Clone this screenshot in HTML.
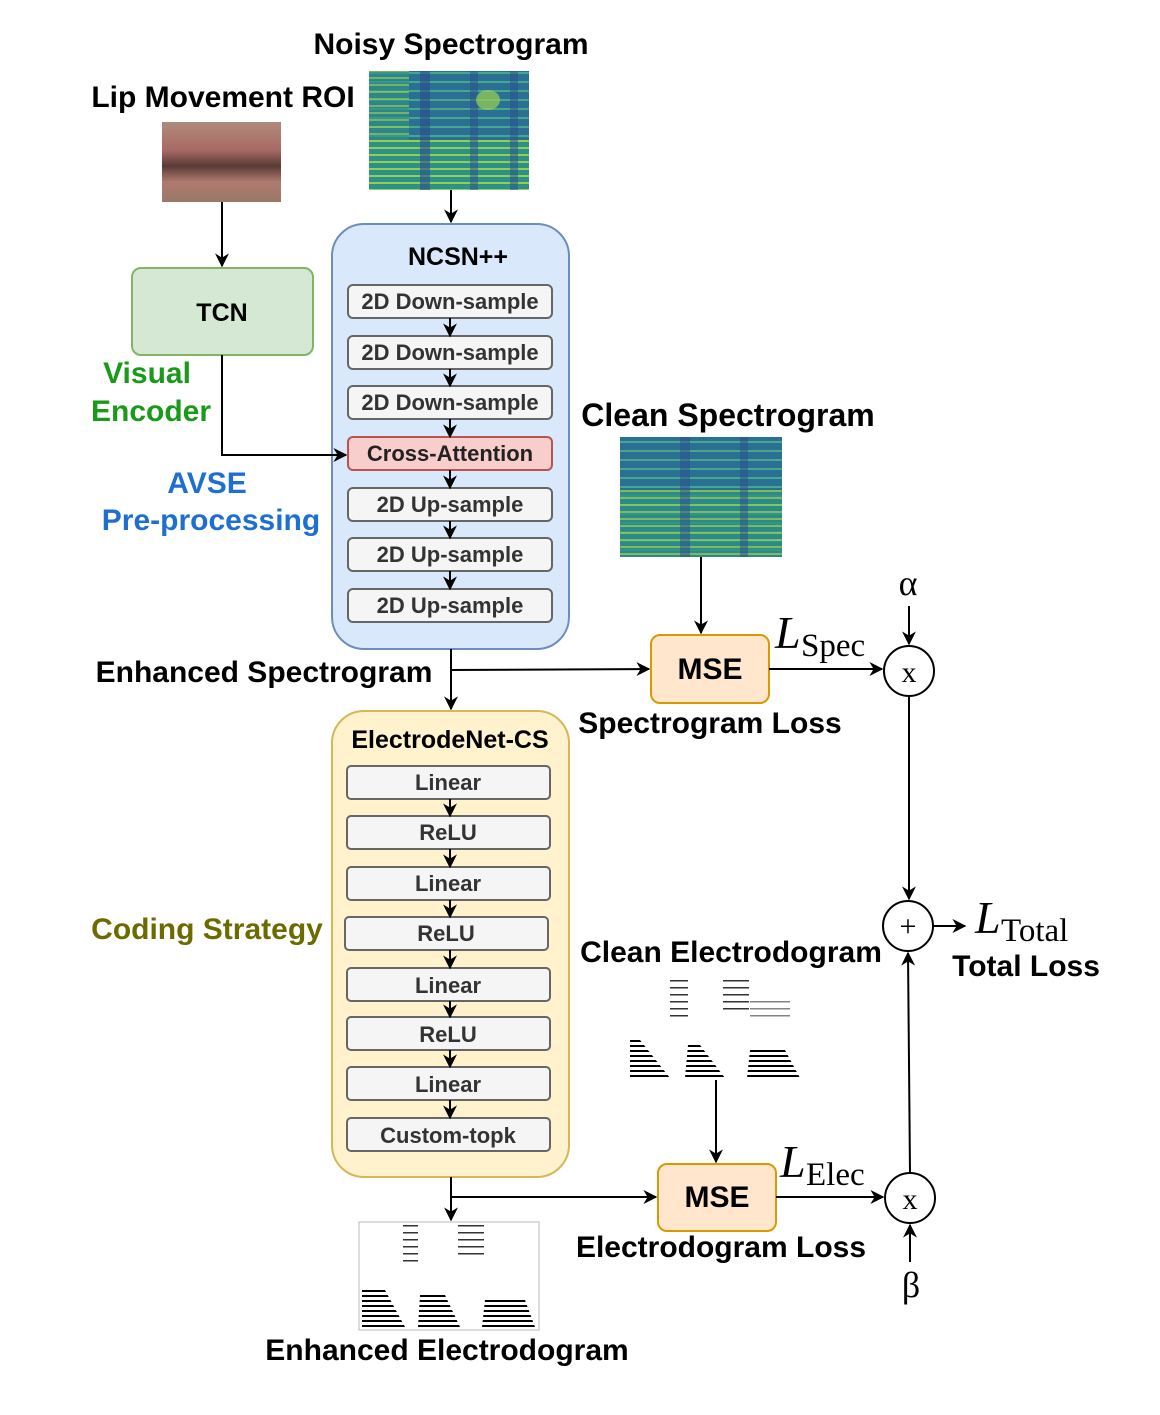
<!DOCTYPE html>
<html><head><meta charset="utf-8"><style>
html,body{margin:0;padding:0;background:#fff}
svg text{font-family:"Liberation Sans",Arial,sans-serif;font-weight:bold}
.s{font-family:"Liberation Serif",serif;font-weight:normal;font-style:italic}
.r{font-family:"Liberation Serif",serif;font-weight:normal}
</style></head><body>
<svg width="1160" height="1410" viewBox="0 0 1160 1410" xmlns="http://www.w3.org/2000/svg">
<defs>
<marker id="a" viewBox="0 0 10 10" refX="9" refY="5" markerWidth="14" markerHeight="14" orient="auto" markerUnits="userSpaceOnUse"><path d="M0,0 L10,5 L0,10 L3,5z" fill="#000"/></marker>
<pattern id="hs" width="6" height="7" patternUnits="userSpaceOnUse"><rect width="6" height="7" fill="#2f8f8a"/><rect y="0" width="6" height="2" fill="#8fd14a"/></pattern>
<pattern id="hs2" width="6" height="9" patternUnits="userSpaceOnUse"><rect width="6" height="9" fill="#2c6f95"/><rect y="0" width="6" height="2" fill="#45a88a"/></pattern>
<pattern id="el" width="10" height="5" patternUnits="userSpaceOnUse"><rect width="10" height="2" fill="#000"/></pattern>
<pattern id="el2" width="10" height="7" patternUnits="userSpaceOnUse"><rect width="10" height="1.5" fill="#333"/></pattern>
<linearGradient id="lip" x1="0" y1="0" x2="0" y2="1"><stop offset="0" stop-color="#b08a7a"/><stop offset="0.35" stop-color="#a86a64"/><stop offset="0.55" stop-color="#5a3a35"/><stop offset="0.75" stop-color="#b07a70"/><stop offset="1" stop-color="#9a7868"/></linearGradient>
</defs>

<text x="451" y="54" font-size="30" text-anchor="middle">Noisy Spectrogram</text>
<text x="223" y="107" font-size="30" text-anchor="middle">Lip Movement ROI</text>

<rect x="162" y="122" width="119" height="80" fill="url(#lip)"/>
<rect x="369" y="71" width="160" height="119" fill="url(#hs2)"/>
<rect x="369" y="140" width="160" height="50" fill="url(#hs)"/>
<rect x="369" y="71" width="40" height="70" fill="url(#hs)" opacity="0.7"/>
<rect x="420" y="71" width="10" height="119" fill="#2a4f8a" opacity="0.6"/>
<rect x="470" y="71" width="8" height="119" fill="#2a4f8a" opacity="0.5"/>
<rect x="510" y="71" width="8" height="119" fill="#2a4f8a" opacity="0.5"/>
<ellipse cx="488" cy="100" rx="12" ry="10" fill="#9ad050" opacity="0.7"/>

<line x1="451" y1="190" x2="451" y2="222" stroke="#000" stroke-width="2" marker-end="url(#a)"/>

<rect x="132" y="268" width="181" height="87" rx="9" fill="#d5e8d4" stroke="#82b366" stroke-width="2"/>
<text x="222" y="321" font-size="25" text-anchor="middle">TCN</text>
<line x1="222" y1="202" x2="222" y2="266" stroke="#000" stroke-width="2" marker-end="url(#a)"/>
<text x="147" y="383" font-size="30" fill="#1a9a1a" text-anchor="middle">Visual</text>
<text x="151" y="421" font-size="30" fill="#1a9a1a" text-anchor="middle">Encoder</text>
<text x="207" y="493" font-size="30" fill="#1f6fd0" text-anchor="middle">AVSE</text>
<text x="211" y="530" font-size="30" fill="#1f6fd0" text-anchor="middle">Pre-processing</text>

<rect x="332" y="224" width="237" height="425" rx="32" fill="#dae8fc" stroke="#6c8ebf" stroke-width="2"/>
<polyline points="222,355 222,455 346,455" fill="none" stroke="#000" stroke-width="2" marker-end="url(#a)"/>
<text x="458" y="265" font-size="25" text-anchor="middle">NCSN++</text>
<g font-size="22" text-anchor="middle">
<rect x="348" y="285" width="204" height="33" rx="5" fill="#f5f5f5" stroke="#666" stroke-width="2"/><text x="450" y="309" fill="#333">2D Down-sample</text>
<rect x="348" y="336" width="204" height="33" rx="5" fill="#f5f5f5" stroke="#666" stroke-width="2"/><text x="450" y="360" fill="#333">2D Down-sample</text>
<rect x="348" y="386" width="204" height="33" rx="5" fill="#f5f5f5" stroke="#666" stroke-width="2"/><text x="450" y="410" fill="#333">2D Down-sample</text>
<rect x="348" y="437" width="204" height="33" rx="5" fill="#f8cecc" stroke="#b85450" stroke-width="2"/><text x="450" y="461" fill="#222">Cross-Attention</text>
<rect x="348" y="488" width="204" height="33" rx="5" fill="#f5f5f5" stroke="#666" stroke-width="2"/><text x="450" y="512" fill="#333">2D Up-sample</text>
<rect x="348" y="538" width="204" height="33" rx="5" fill="#f5f5f5" stroke="#666" stroke-width="2"/><text x="450" y="562" fill="#333">2D Up-sample</text>
<rect x="348" y="589" width="204" height="33" rx="5" fill="#f5f5f5" stroke="#666" stroke-width="2"/><text x="450" y="613" fill="#333">2D Up-sample</text>
</g>
<g stroke="#000" stroke-width="2" marker-end="url(#a)">
<line x1="450" y1="318" x2="450" y2="336"/><line x1="450" y1="369" x2="450" y2="386"/><line x1="450" y1="419" x2="450" y2="437"/>
<line x1="450" y1="470" x2="450" y2="488"/><line x1="450" y1="521" x2="450" y2="538"/><line x1="450" y1="571" x2="450" y2="589"/>
</g>

<text x="728" y="426" font-size="32" text-anchor="middle">Clean Spectrogram</text>
<rect x="620" y="437" width="162" height="120" fill="url(#hs2)"/>
<rect x="620" y="490" width="162" height="67" fill="url(#hs)" opacity="0.8"/>
<rect x="680" y="437" width="10" height="120" fill="#2a4f8a" opacity="0.5"/>
<rect x="740" y="437" width="8" height="120" fill="#2a4f8a" opacity="0.5"/>
<line x1="701" y1="557" x2="701" y2="633" stroke="#000" stroke-width="2" marker-end="url(#a)"/>

<text x="264" y="682" font-size="30" text-anchor="middle">Enhanced Spectrogram</text>
<line x1="451" y1="649" x2="451" y2="709" stroke="#000" stroke-width="2" marker-end="url(#a)"/>
<polyline points="451,670 649,669" fill="none" stroke="#000" stroke-width="2" marker-end="url(#a)"/>

<rect x="651" y="635" width="118" height="68" rx="9" fill="#ffe6cc" stroke="#d79b00" stroke-width="2"/>
<text x="710" y="679" font-size="30" text-anchor="middle">MSE</text>
<text x="710" y="733" font-size="30" text-anchor="middle">Spectrogram Loss</text>
<line x1="769" y1="669" x2="882" y2="669" stroke="#000" stroke-width="2" marker-end="url(#a)"/>
<text x="775" y="648" font-size="46" class="s">L</text><text x="801" y="656" font-size="33" class="r">Spec</text>

<circle cx="909" cy="671" r="25" fill="#fff" stroke="#000" stroke-width="2"/>
<text x="909" y="682" font-size="30" class="r" text-anchor="middle">x</text>
<text x="908" y="595" font-size="36" class="r" text-anchor="middle">α</text>
<line x1="909" y1="606" x2="909" y2="644" stroke="#000" stroke-width="2" marker-end="url(#a)"/>
<line x1="909" y1="696" x2="909" y2="899" stroke="#000" stroke-width="2" marker-end="url(#a)"/>

<circle cx="908" cy="926" r="25" fill="#fff" stroke="#000" stroke-width="2"/>
<text x="908" y="936" font-size="30" class="r" text-anchor="middle">+</text>
<line x1="933" y1="926" x2="965" y2="926" stroke="#000" stroke-width="2" marker-end="url(#a)"/>
<text x="975" y="933" font-size="46" class="s">L</text><text x="1001" y="941" font-size="33" class="r">Total</text>
<text x="1026" y="976" font-size="30" text-anchor="middle">Total Loss</text>

<text x="207" y="939" font-size="30" fill="#6b6b00" text-anchor="middle">Coding Strategy</text>
<rect x="332" y="711" width="237" height="466" rx="32" fill="#fff2cc" stroke="#d6b656" stroke-width="2"/>
<text x="450" y="748" font-size="25" text-anchor="middle">ElectrodeNet-CS</text>
<g font-size="22" text-anchor="middle" fill="#333">
<rect x="347" y="766" width="203" height="33" rx="4" fill="#f5f5f5" stroke="#666" stroke-width="2"/><text x="448" y="790">Linear</text>
<rect x="347" y="816" width="203" height="33" rx="4" fill="#f5f5f5" stroke="#666" stroke-width="2"/><text x="448" y="840">ReLU</text>
<rect x="347" y="867" width="203" height="33" rx="4" fill="#f5f5f5" stroke="#666" stroke-width="2"/><text x="448" y="891">Linear</text>
<rect x="345" y="917" width="203" height="33" rx="4" fill="#f5f5f5" stroke="#666" stroke-width="2"/><text x="446" y="941">ReLU</text>
<rect x="347" y="968" width="203" height="33" rx="4" fill="#f5f5f5" stroke="#666" stroke-width="2"/><text x="448" y="993">Linear</text>
<rect x="347" y="1017" width="203" height="33" rx="4" fill="#f5f5f5" stroke="#666" stroke-width="2"/><text x="448" y="1042">ReLU</text>
<rect x="347" y="1067" width="203" height="33" rx="4" fill="#f5f5f5" stroke="#666" stroke-width="2"/><text x="448" y="1092">Linear</text>
<rect x="347" y="1118" width="203" height="33" rx="4" fill="#f5f5f5" stroke="#666" stroke-width="2"/><text x="448" y="1143">Custom-topk</text>
</g>
<g stroke="#000" stroke-width="2" marker-end="url(#a)">
<line x1="450" y1="799" x2="450" y2="816"/><line x1="450" y1="849" x2="450" y2="867"/><line x1="450" y1="900" x2="450" y2="917"/>
<line x1="450" y1="950" x2="450" y2="968"/><line x1="450" y1="1001" x2="450" y2="1017"/><line x1="450" y1="1050" x2="450" y2="1067"/>
<line x1="450" y1="1100" x2="450" y2="1118"/>
</g>

<text x="731" y="962" font-size="30" text-anchor="middle">Clean Electrodogram</text>
<rect x="670" y="980" width="18" height="40" fill="url(#el2)"/>
<rect x="723" y="980" width="26" height="30" fill="url(#el2)"/>
<rect x="750" y="1000" width="40" height="20" fill="url(#el2)" opacity="0.6"/>
<path d="M630,1078 L670,1078 L640,1040 L630,1040z" fill="url(#el)"/>
<path d="M685,1078 L725,1078 L700,1045 L688,1045z" fill="url(#el)"/>
<path d="M747,1078 L800,1078 L785,1050 L750,1050z" fill="url(#el)"/>
<line x1="716" y1="1080" x2="716" y2="1162" stroke="#000" stroke-width="2" marker-end="url(#a)"/>

<line x1="451" y1="1177" x2="451" y2="1220" stroke="#000" stroke-width="2" marker-end="url(#a)"/>
<polyline points="451,1197 656,1197" fill="none" stroke="#000" stroke-width="2" marker-end="url(#a)"/>
<rect x="658" y="1164" width="118" height="67" rx="9" fill="#ffe6cc" stroke="#d79b00" stroke-width="2"/>
<text x="717" y="1207" font-size="30" text-anchor="middle">MSE</text>
<text x="721" y="1257" font-size="30" text-anchor="middle">Electrodogram Loss</text>
<line x1="776" y1="1197" x2="883" y2="1197" stroke="#000" stroke-width="2" marker-end="url(#a)"/>
<text x="780" y="1177" font-size="46" class="s">L</text><text x="806" y="1185" font-size="33" class="r">Elec</text>

<circle cx="910" cy="1198" r="25" fill="#fff" stroke="#000" stroke-width="2"/>
<text x="910" y="1209" font-size="30" class="r" text-anchor="middle">x</text>
<line x1="910" y1="1173" x2="908" y2="953" stroke="#000" stroke-width="2" marker-end="url(#a)"/>
<text x="911" y="1297" font-size="36" class="r" text-anchor="middle">β</text>
<line x1="910" y1="1262" x2="910" y2="1225" stroke="#000" stroke-width="2" marker-end="url(#a)"/>

<rect x="359" y="1222" width="180" height="108" fill="#fff" stroke="#bbb" stroke-width="1"/>
<rect x="403" y="1225" width="15" height="40" fill="url(#el2)"/>
<rect x="458" y="1225" width="26" height="35" fill="url(#el2)"/>
<path d="M362,1327 L405,1327 L385,1290 L362,1290z" fill="url(#el)"/>
<path d="M418,1327 L460,1327 L445,1295 L420,1295z" fill="url(#el)"/>
<path d="M482,1327 L535,1327 L525,1300 L485,1300z" fill="url(#el)"/>
<text x="447" y="1360" font-size="30" text-anchor="middle">Enhanced Electrodogram</text>
</svg>
</body></html>
